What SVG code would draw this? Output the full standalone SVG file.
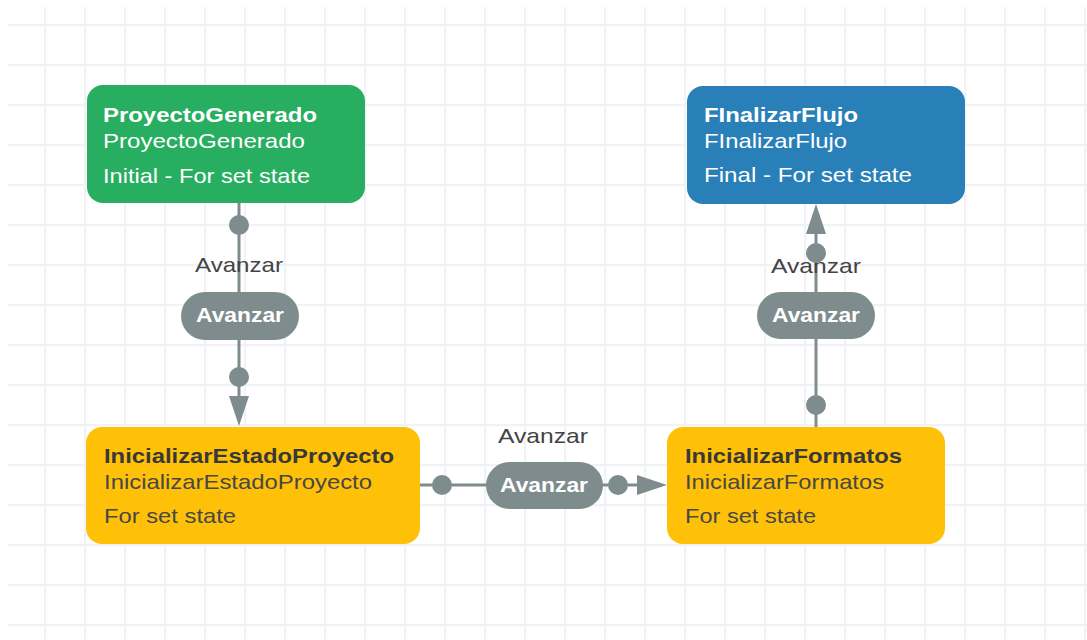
<svg xmlns="http://www.w3.org/2000/svg" width="1087" height="640" viewBox="0 0 1087 640">
  <defs>
    <pattern id="grid" patternUnits="userSpaceOnUse" x="4" y="24" width="40" height="40">
      <path d="M0 1 H40 M1 0 V40" fill="none" stroke="#f0f2f5" stroke-width="2.4"/>
    </pattern>
    <!-- arrowhead tip sits 6px past the end of the path -->
    <marker id="arrow" viewBox="0 0 30 20" refX="24" refY="10" markerWidth="30" markerHeight="20" markerUnits="userSpaceOnUse" orient="auto">
      <path d="M0 0 L30 10 L0 20 Z" fill="#7f8c8d"/>
    </marker>
    <style>
      .node-title { font-family: "Liberation Sans", Arial, sans-serif; font-size: 21px; font-weight: bold; }
      .node-text { font-family: "Liberation Sans", Arial, sans-serif; font-size: 21px; }
      .light { fill: #ffffff; }
      .dark-title { fill: #383838; }
      .dark { fill: #474747; }
      .edge { fill: none; stroke: #7f8c8d; stroke-width: 3; }
      .dot { fill: #7f8c8d; }
      .pill { fill: #7f8c8d; }
      .pill-text { font-family: "Liberation Sans", Arial, sans-serif; font-size: 21px; font-weight: bold; fill: #ffffff; text-anchor: middle; }
      .edge-label { font-family: "Liberation Sans", Arial, sans-serif; font-size: 21px; fill: #444444; text-anchor: middle; }
    </style>
  </defs>

  <rect x="0" y="0" width="1087" height="640" fill="#ffffff"/>
  <rect x="8" y="7" width="1079" height="633" fill="url(#grid)"/>

  <!-- transitions -->
  <g id="connectors">
    <g id="edge-generado-estado">
      <path class="edge" d="M239 203 V420" marker-end="url(#arrow)"/>
      <circle class="dot" cx="239" cy="225" r="10"/>
      <circle class="dot" cx="239" cy="377" r="10"/>
      <text class="edge-label" x="239" y="272" textLength="88" lengthAdjust="spacingAndGlyphs">Avanzar</text>
      <rect class="pill" x="181" y="292" width="118" height="48" rx="24"/>
      <text class="pill-text" x="240" y="322" textLength="88" lengthAdjust="spacingAndGlyphs">Avanzar</text>
    </g>
    <g id="edge-estado-formatos">
      <path class="edge" d="M420 485 H661" marker-end="url(#arrow)"/>
      <circle class="dot" cx="442" cy="485" r="10"/>
      <circle class="dot" cx="618" cy="485" r="10"/>
      <text class="edge-label" x="543" y="443" textLength="90" lengthAdjust="spacingAndGlyphs">Avanzar</text>
      <rect class="pill" x="486" y="462" width="117" height="47" rx="23.5"/>
      <text class="pill-text" x="544" y="492" textLength="88" lengthAdjust="spacingAndGlyphs">Avanzar</text>
    </g>
    <g id="edge-formatos-final">
      <path class="edge" d="M816 427 V210" marker-end="url(#arrow)"/>
      <circle class="dot" cx="816" cy="405" r="10"/>
      <text class="edge-label" x="816" y="273" textLength="90" lengthAdjust="spacingAndGlyphs">Avanzar</text>
      <circle class="dot" cx="816" cy="253" r="10"/>
      <rect class="pill" x="757" y="292" width="118" height="47" rx="23.5"/>
      <text class="pill-text" x="816" y="322" textLength="88" lengthAdjust="spacingAndGlyphs">Avanzar</text>
    </g>
  </g>

  <!-- states -->
  <g id="node-proyecto-generado">
    <rect x="87" y="85" width="278" height="118" rx="16" fill="#27ae60"/>
    <text class="node-title light" x="103" y="122" textLength="214" lengthAdjust="spacingAndGlyphs">ProyectoGenerado</text>
    <text class="node-text light" x="103" y="148" textLength="202" lengthAdjust="spacingAndGlyphs">ProyectoGenerado</text>
    <text class="node-text light" x="103" y="183" textLength="207" lengthAdjust="spacingAndGlyphs">Initial - For set state</text>
  </g>

  <g id="node-finalizar-flujo">
    <rect x="687" y="86" width="278" height="118" rx="16" fill="#2980b9"/>
    <text class="node-title light" x="704" y="122" textLength="154" lengthAdjust="spacingAndGlyphs">FInalizarFlujo</text>
    <text class="node-text light" x="704" y="148" textLength="143" lengthAdjust="spacingAndGlyphs">FInalizarFlujo</text>
    <text class="node-text light" x="704" y="182" textLength="208" lengthAdjust="spacingAndGlyphs">Final - For set state</text>
  </g>

  <g id="node-inicializar-estado">
    <rect x="86" y="427" width="334" height="117" rx="16" fill="#ffc107"/>
    <text class="node-title dark-title" x="104" y="463" textLength="290" lengthAdjust="spacingAndGlyphs">InicializarEstadoProyecto</text>
    <text class="node-text dark" x="104" y="489" textLength="268" lengthAdjust="spacingAndGlyphs">InicializarEstadoProyecto</text>
    <text class="node-text dark" x="104" y="523" textLength="132" lengthAdjust="spacingAndGlyphs">For set state</text>
  </g>

  <g id="node-inicializar-formatos">
    <rect x="667" y="427" width="278" height="117" rx="16" fill="#ffc107"/>
    <text class="node-title dark-title" x="685" y="463" textLength="217" lengthAdjust="spacingAndGlyphs">InicializarFormatos</text>
    <text class="node-text dark" x="685" y="489" textLength="199" lengthAdjust="spacingAndGlyphs">InicializarFormatos</text>
    <text class="node-text dark" x="685" y="523" textLength="131" lengthAdjust="spacingAndGlyphs">For set state</text>
  </g>
</svg>
